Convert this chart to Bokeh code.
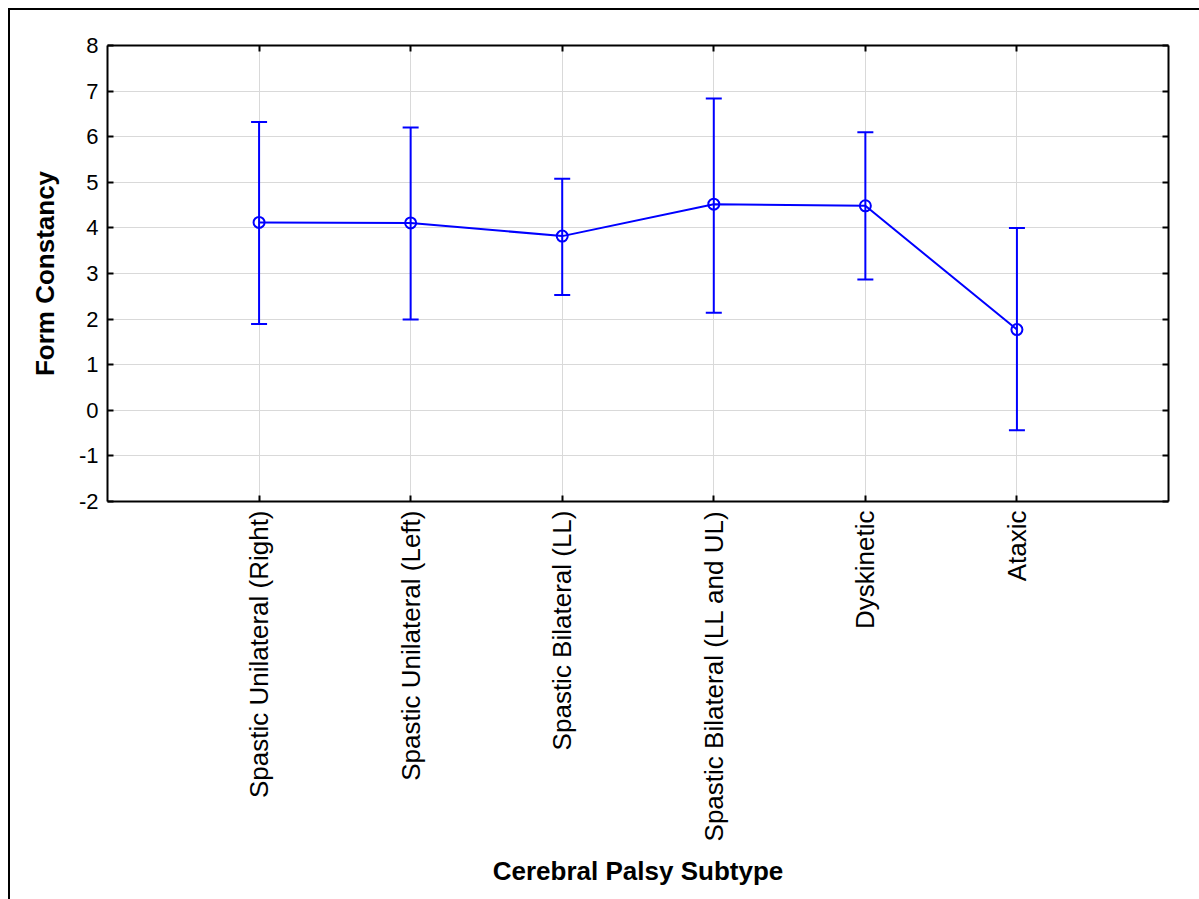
import math
from bokeh.plotting import figure
from bokeh.models import (ColumnDataSource, Whisker, TeeHead, Range1d, FactorRange,
                          LinearAxis, CategoricalAxis, FixedTicker)
from bokeh.embed import file_html
from bokeh.resources import INLINE

categories = ["Spastic Unilateral (Right)", "Spastic Unilateral (Left)",
              "Spastic Bilateral (LL)", "Spastic Bilateral (LL and UL)",
              "Dyskinetic", "Ataxic"]
means = [4.12, 4.11, 3.82, 4.52, 4.485, 1.77]
upper = [6.32, 6.20, 5.08, 6.84, 6.10, 4.00]
lower = [1.89, 1.99, 2.53, 2.14, 2.87, -0.44]
y_ticks = [-2, -1, 0, 1, 2, 3, 4, 5, 6, 7, 8]
y_tick_labels = {t: str(t) for t in y_ticks}

FONT = "Liberation Sans"
BLUE = "#0000ff"
GRID = "#d9d9d9"

src = ColumnDataSource(dict(x=categories, y=means, upper=upper, lower=lower))

p = figure(frame_width=1061, frame_height=456,
           x_range=FactorRange(factors=categories, range_padding=0.5,
                               range_padding_units="absolute"),
           y_range=Range1d(-2, 8),
           output_backend="svg", toolbar_location=None,
           min_border_left=97, min_border_right=31, min_border_top=35,
           min_border_bottom=398, margin=(8, 0, 0, 8))
p.styles = {"border-left": "2px solid black", "border-top": "2px solid black"}
p.outline_line_color = None
p.background_fill_color = "white"
p.border_fill_color = "white"

bx = p.below[0]
ly = p.left[0]

yt = FixedTicker(ticks=y_ticks)
ly.ticker = yt
ly.major_label_overrides = y_tick_labels
p.ygrid.ticker = yt
p.xgrid.grid_line_color = GRID
p.ygrid.grid_line_color = GRID
p.xgrid.grid_line_width = 1
p.ygrid.grid_line_width = 1

right = LinearAxis(ticker=FixedTicker(ticks=y_ticks))
top = CategoricalAxis()
p.add_layout(right, "right")
p.add_layout(top, "above")

for ax in [bx, ly, right, top]:
    ax.axis_line_width = 2
    ax.axis_line_color = "black"
    ax.major_tick_in = 6
    ax.major_tick_out = 0
    ax.major_tick_line_width = 2
    ax.major_tick_line_color = "black"
    ax.minor_tick_line_color = None
    ax.major_label_text_font = FONT
    ax.major_label_text_color = "black"

for ax in [right, top]:
    ax.major_label_text_color = None
    ax.major_label_text_font_size = "0px"

ly.major_label_text_font_size = "22px"
ly.major_label_standoff = 9
ly.axis_label = "Form Constancy"
ly.axis_label_standoff = 16

bx.major_label_orientation = math.pi / 2
bx.major_label_text_font_size = "26px"
bx.major_label_standoff = 9
bx.axis_label = "Cerebral Palsy Subtype"
bx.axis_label_standoff = 12

for ax in [bx, ly]:
    ax.axis_label_text_font = FONT
    ax.axis_label_text_font_style = "bold"
    ax.axis_label_text_font_size = "26px"
    ax.axis_label_text_color = "black"

p.line("x", "y", source=src, line_color=BLUE, line_width=2)
whisker = Whisker(source=src, base="x", upper="upper", lower="lower",
                  line_color=BLUE, line_width=2,
                  upper_head=TeeHead(size=16, line_color=BLUE, line_width=2),
                  lower_head=TeeHead(size=16, line_color=BLUE, line_width=2))
p.add_layout(whisker)
p.scatter("x", "y", source=src, marker="circle", size=11, fill_color=None,
          line_color=BLUE, line_width=2)

open("out.html", "w").write(file_html(p, INLINE))
